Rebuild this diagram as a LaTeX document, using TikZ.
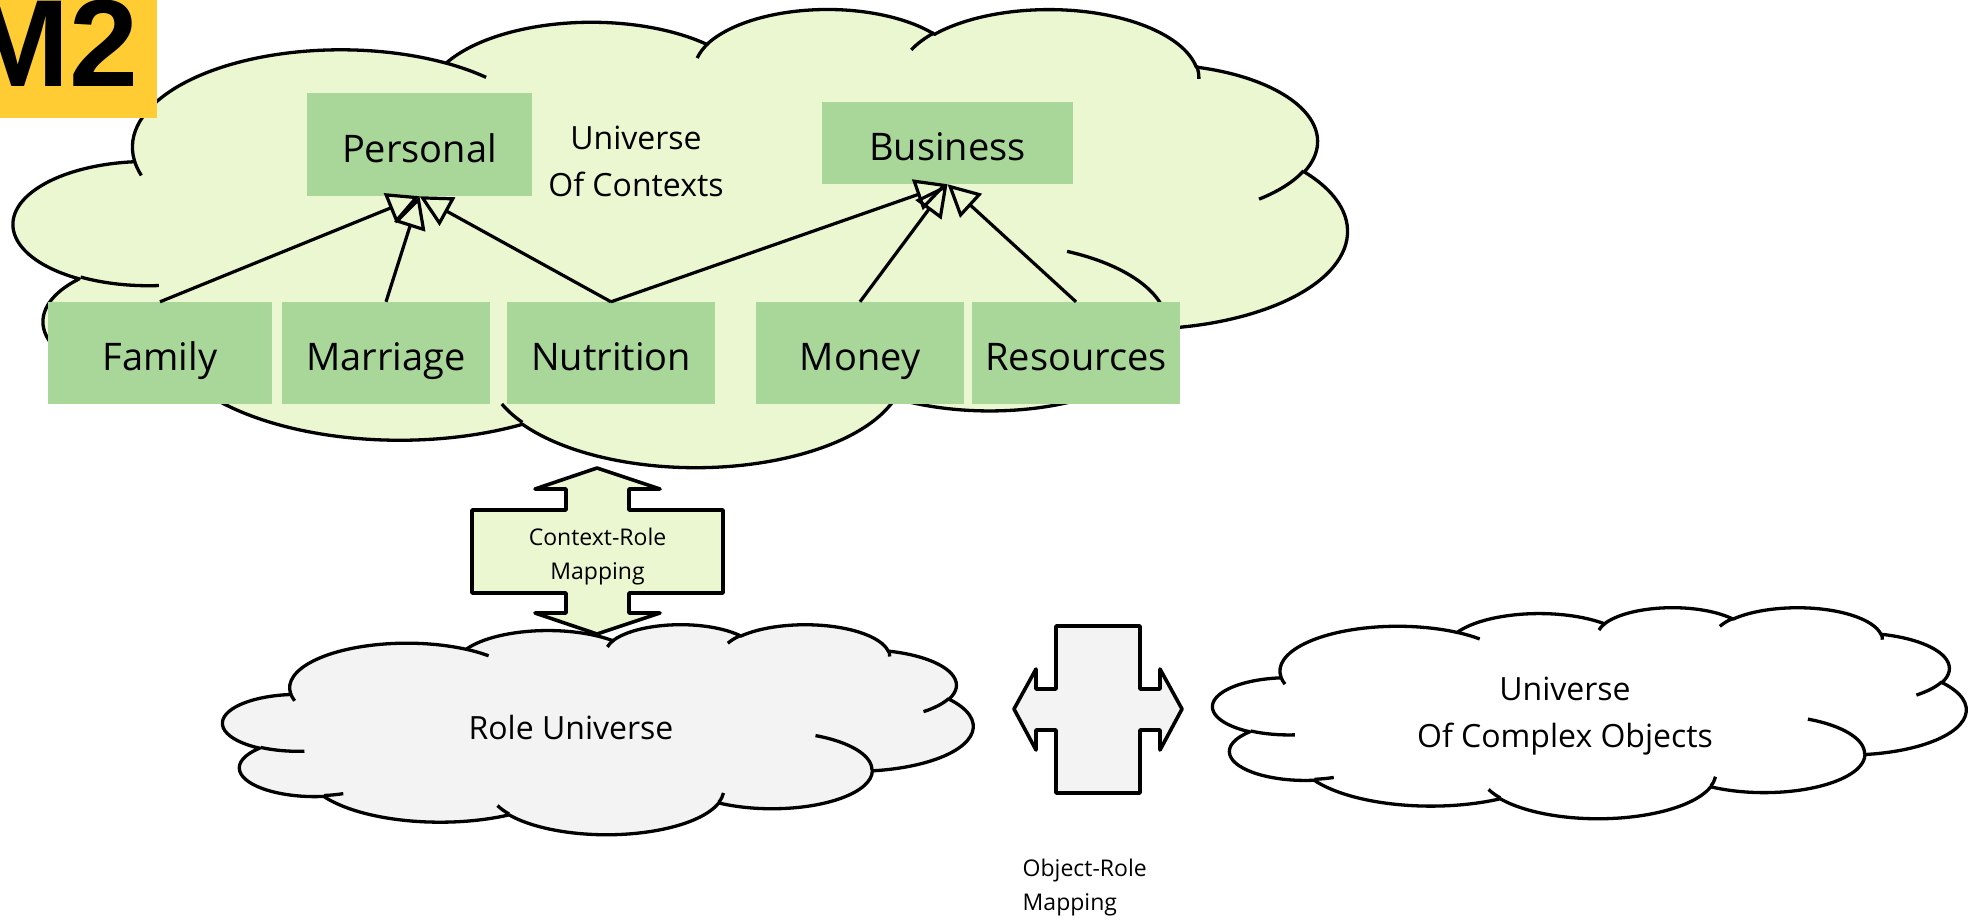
\documentclass[tikz,border=0pt]{standalone}
\usepackage{fontspec}
\setmainfont{Open Sans}
\newfontfamily\badgefont{Liberation Sans}
\usetikzlibrary{arrows.meta}
\definecolor{cloudgreen}{HTML}{EBF7D0}
\definecolor{boxgreen}{HTML}{A9D699}
\definecolor{badgeyellow}{HTML}{FFCD33}
\definecolor{rolegray}{HTML}{F3F3F3}

% Office-style cloud: arcs given by visual angles, converted to parametric ones
\newcommand\cldcalc[5]{%
  \pgfmathsetmacro\cldtmpA{atan2((#2)*sin(#4),(#3)*cos(#4))}%
  \pgfmathsetmacro\cldtmpB{atan2((#2)*sin((#4)+(#5)),(#3)*cos((#4)+(#5)))}%
  \pgfmathsetmacro\cldtmpB{\cldtmpB+360*ceil((\cldtmpA-\cldtmpB)/360)}%
  \expandafter\xdef\csname cld#1s\endcsname{\cldtmpA}%
  \expandafter\xdef\csname cld#1e\endcsname{\cldtmpB}%
}
\cldcalc{A}{6.753}{9.190}{-190.4875}{123.7805}
\cldcalc{B}{5.333}{7.267}{-144.1024}{89.9452}
\cldcalc{C}{4.365}{5.945}{-145.8079}{99.7230}
\cldcalc{D}{4.857}{6.595}{-130.9861}{117.2417}
\cldcalc{E}{5.333}{7.273}{-78.7089}{109.0269}
\cldcalc{F}{6.775}{9.220}{-46.2673}{130.2690}
\cldcalc{G}{5.785}{7.867}{0.6250}{114.0333}
\cldcalc{H}{6.752}{9.215}{22.4516}{115.1726}
\cldcalc{I}{7.720}{10.543}{66.2426}{75.7110}
\cldcalc{J}{4.360}{5.918}{-274.9421}{146.7356}
\cldcalc{K}{4.345}{5.945}{-246.8285}{152.5189}
\cldcalc{a}{4.345}{5.945}{86.7420}{26.4295}
\cldcalc{b}{4.360}{5.918}{73.6105}{11.4475}
\cldcalc{c}{6.752}{9.215}{137.6242}{14.0811}
\cldcalc{d}{6.752}{9.215}{6.4533}{15.9984}
\cldcalc{e}{5.785}{7.867}{-70.2924}{70.9174}
\cldcalc{f}{5.333}{7.273}{30.3180}{27.7515}
\cldcalc{g}{4.857}{6.595}{-13.7443}{14.8589}
\cldcalc{h}{4.857}{6.595}{-149.1815}{18.1954}
\cldcalc{i}{4.365}{5.945}{-163.4943}{17.6864}
\cldcalc{j}{6.753}{9.190}{-66.7070}{12.3194}
\cldcalc{k}{6.753}{9.190}{157.6544}{11.8582}

\newcommand\cldpath{(3.900,14.370)
 arc[start angle=\cldAs,end angle=\cldAe,x radius=6.753,y radius=9.190]
 arc[start angle=\cldBs,end angle=\cldBe,x radius=5.333,y radius=7.267]
 arc[start angle=\cldCs,end angle=\cldCe,x radius=4.365,y radius=5.945]
 arc[start angle=\cldDs,end angle=\cldDe,x radius=4.857,y radius=6.595]
 arc[start angle=\cldEs,end angle=\cldEe,x radius=5.333,y radius=7.273]
 arc[start angle=\cldFs,end angle=\cldFe,x radius=6.775,y radius=9.220]
 arc[start angle=\cldGs,end angle=\cldGe,x radius=5.785,y radius=7.867]
 arc[start angle=\cldHs,end angle=\cldHe,x radius=6.752,y radius=9.215]
 arc[start angle=\cldIs,end angle=\cldIe,x radius=7.720,y radius=10.543]
 arc[start angle=\cldJs,end angle=\cldJe,x radius=4.360,y radius=5.918]
 arc[start angle=\cldKs,end angle=\cldKe,x radius=4.345,y radius=5.945]
 -- cycle}
\newcommand\cldticks{%
 (4.693,26.177) arc[start angle=\cldas,end angle=\cldae,x radius=4.345,y radius=5.945]
 (6.928,34.899) arc[start angle=\cldbs,end angle=\cldbe,x radius=4.360,y radius=5.918]
 (16.478,39.090) arc[start angle=\cldcs,end angle=\cldce,x radius=6.752,y radius=9.215]
 (28.827,34.751) arc[start angle=\cldds,end angle=\cldde,x radius=6.752,y radius=9.215]
 (34.129,22.954) arc[start angle=\cldes,end angle=\cldee,x radius=5.785,y radius=7.867]
 (41.798,15.354) arc[start angle=\cldfs,end angle=\cldfe,x radius=5.333,y radius=7.273]
 (38.324,5.426) arc[start angle=\cldgs,end angle=\cldge,x radius=4.857,y radius=6.595]
 (29.078,3.952) arc[start angle=\cldhs,end angle=\cldhe,x radius=4.857,y radius=6.595]
 (22.141,4.720) arc[start angle=\cldis,end angle=\cldie,x radius=4.365,y radius=5.945]
 (14.000,5.192) arc[start angle=\cldjs,end angle=\cldje,x radius=6.753,y radius=9.190]
 (4.127,15.789) arc[start angle=\cldks,end angle=\cldke,x radius=6.753,y radius=9.190]}

\begin{document}
\begin{tikzpicture}[x=1pt,y=-1pt,
  cloudline/.style={draw=black,line width=3.3pt,line join=round},
  boxnode/.style={fill=boxgreen,inner sep=0pt,text height=35pt,text depth=0pt,
    font=\fontsize{38}{46}\selectfont},
  genline/.style={line width=3.2pt,-{Triangle[open,length=32pt,width=32pt]}},
  calloutshape/.style={draw=black,line width=3.6pt,line join=round},
  cloudtext/.style={inner sep=0pt,font=\fontsize{32}{47}\selectfont,align=center},
  maptext/.style={inner sep=0pt,font=\fontsize{23}{34}\selectfont}]
\useasboundingbox (0,0) rectangle (1976,919);

% clouds
\begin{scope}[shift={(14,8)},x=30.856pt,y=-10.602pt]
  \path[cloudline,fill=cloudgreen] \cldpath;
  \draw[cloudline] \cldticks;
\end{scope}
\begin{scope}[shift={(223,624)},x=17.361pt,y=-4.861pt]
  \path[cloudline,fill=rolegray] \cldpath;
  \draw[cloudline] \cldticks;
\end{scope}
\begin{scope}[shift={(1213,607)},x=17.431pt,y=-4.884pt]
  \path[cloudline,fill=white] \cldpath;
  \draw[cloudline] \cldticks;
\end{scope}

\node[cloudtext] (ctxlabel) at (636,162.5)
  {\rule{0pt}{30pt}Universe\\Of Contexts\rule[-10pt]{0pt}{10pt}};
\node[cloudtext,anchor=base] (rolelabel) at (571,739) {Role Universe};
\node[cloudtext] (objlabel) at (1565,713.5)
  {\rule{0pt}{30pt}Universe\\Of Complex Objects\rule[-10pt]{0pt}{10pt}};

% boxes
\node[boxnode,minimum width=225pt,minimum height=103pt] (personal) at (419.5,144.5) {Personal};
\node[boxnode,minimum width=251pt,minimum height=82pt] (business) at (947.5,143) {Business};
\node[boxnode,minimum width=224pt,minimum height=102pt] (family) at (160,353) {Family};
\node[boxnode,minimum width=208pt,minimum height=102pt] (marriage) at (386,353) {Marriage};
\node[boxnode,minimum width=208pt,minimum height=102pt] (nutrition) at (611,353) {Nutrition};
\node[boxnode,minimum width=208pt,minimum height=102pt] (money) at (860,353) {Money};
\node[boxnode,minimum width=208pt,minimum height=102pt] (resources) at (1076,353) {Resources};

% generalisation connectors
\draw[genline] (family.north) -- (personal.south);
\draw[genline] (marriage.north) -- (personal.south);
\draw[genline] (nutrition.north) -- (personal.south);
\draw[genline] (nutrition.north) -- (business.south);
\draw[genline] (money.north) -- (business.south);
\draw[genline] (resources.north) -- (business.south);

% context-role mapping (up-down arrow callout)
\draw[calloutshape,fill=cloudgreen] (597,468) -- (660,489) -- (629,489) -- (629,510)
  -- (723,510) -- (723,593) -- (629,593) -- (629,613) -- (660,613) -- (597,634)
  -- (535,613) -- (566,613) -- (566,593) -- (472,593) -- (472,510) -- (566,510)
  -- (566,489) -- (535,489) -- cycle;
\node[maptext,align=center] (ctxmap) at (597.5,552)
  {\rule{0pt}{30pt}Context-Role\\Mapping\rule[-10pt]{0pt}{10pt}};

% object-role mapping (left-right arrow callout)
\draw[calloutshape,fill=rolegray] (1014,709) -- (1036,669) -- (1036,689) -- (1056,689)
  -- (1056,626) -- (1140,626) -- (1140,689) -- (1160,689) -- (1160,669) -- (1182,709)
  -- (1160,750) -- (1160,730) -- (1140,730) -- (1140,793) -- (1056,793) -- (1056,730)
  -- (1036,730) -- (1036,750) -- cycle;
\node[maptext,align=left,anchor=west] (objmap) at (1022.5,883)
  {\rule{0pt}{30pt}Object-Role\\Mapping\rule[-10pt]{0pt}{10pt}};

% badge
\node[fill=badgeyellow,anchor=north west,minimum width=157pt,minimum height=118pt,inner sep=0pt] (badge) at (0,0) {};
\begin{scope}
  \clip (badge.south west) rectangle (badge.north east);
  \node[anchor=base east,inner sep=0pt,font=\badgefont\bfseries\fontsize{124}{124}\selectfont] (m2) at (139,86) {M2};
\end{scope}
\end{tikzpicture}
\end{document}
